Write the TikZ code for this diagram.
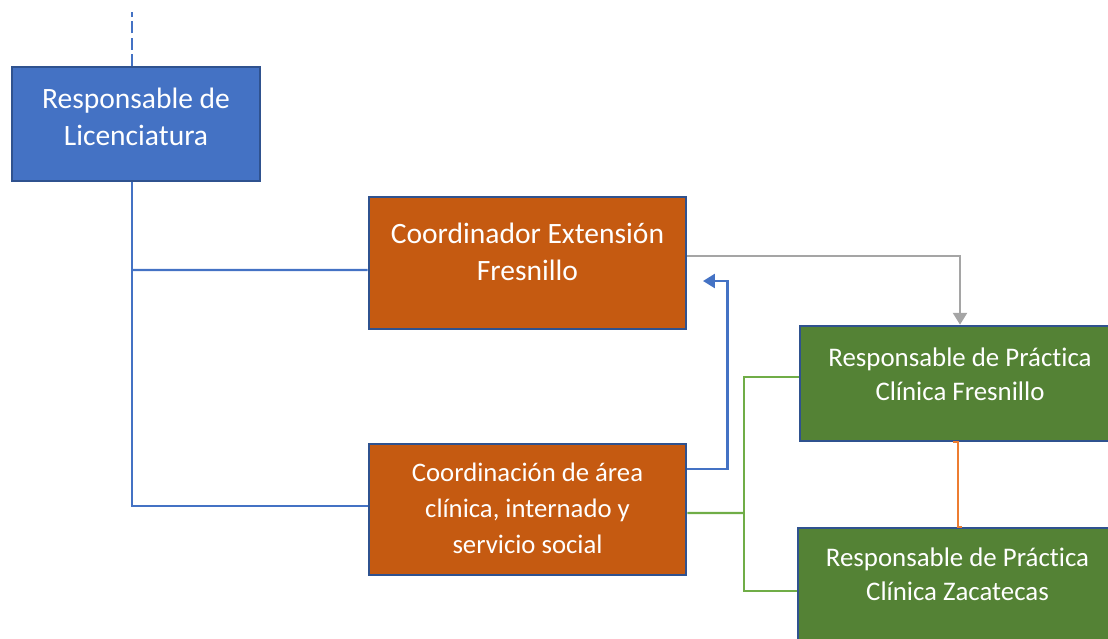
\documentclass[tikz,border=0pt]{standalone}
\usepackage{fontspec}
\setmainfont{Carlito}[Ligatures=NoCommon]
\usetikzlibrary{arrows.meta}
\definecolor{azul}{HTML}{4472C4}
\definecolor{borde}{HTML}{2F528F}
\definecolor{naranja}{HTML}{C55A11}
\definecolor{verde}{HTML}{548235}
\definecolor{verdeclaro}{HTML}{70AD47}
\definecolor{gris}{HTML}{A5A5A5}
\definecolor{naranjaclaro}{HTML}{ED7D31}
\tikzset{
  caja/.style={draw=borde, line width=1.8pt, inner sep=0pt},
  texto/.style={text=white, align=center, font=\fontsize{21}{26}\selectfont},
  textomedio/.style={text=white, align=center, font=\fontsize{19}{25.5}\selectfont},
  textochico/.style={text=white, align=center, font=\fontsize{19.1}{24.2}\selectfont},
  conector/.style={line width=1.7pt},
  punta/.style={-{Triangle[width=10pt,length=8.5pt]}}
}
\begin{document}
\begin{tikzpicture}[x=0.025cm, y=-0.025cm]
\useasboundingbox (0,0) rectangle (1108,638);
\clip (0,0) rectangle (1108,638);
% cajas
\node[caja, fill=azul, minimum width=6.2cm, minimum height=2.85cm] (lic) at (136,124) {};
\node[caja, fill=naranja, minimum width=7.925cm, minimum height=3.3cm] (ext) at (527.5,263) {};
\node[caja, fill=naranja, minimum width=7.925cm, minimum height=3.275cm] (area) at (527.5,509.5) {};
\node[caja, fill=verde, minimum width=8cm, minimum height=2.875cm] (fres) at (960,383.5) {};
\node[caja, fill=verde, minimum width=7.975cm, minimum height=2.8cm] (zac) at (957.5,584) {};
% textos
\node[texto] (licT) at (136,117) {Responsable de\\Licenciatura};
\node[texto] (extT) at (527.5,252) {Coordinador Extensión\\Fresnillo};
\node[textomedio] (areaT) at (527.5,508) {Coordinación de área\\clínica, internado y\\servicio social};
\node[textochico] (fresT) at (960,374) {Responsable de Práctica\\Clínica Fresnillo};
\node[textochico] (zacT) at (957.5,574.5) {Responsable de Práctica\\Clínica Zacatecas};
% puntos libres
\coordinate (arriba) at (132,12);
\coordinate (flecha) at (703,281);
\coordinate (nudo) at (744,513);
% conectores
\draw [conector, azul, dash pattern=on 8.5pt off 3pt] (arriba |- lic.north) -- (arriba);
\draw [conector, azul] (arriba |- lic.south) |- ([yshift=2.5pt]area.west);
\draw [conector, azul] (arriba |- ext.west) ++(0,7) -- ([yshift=-5pt]ext.west);
\draw [conector, gris, punta] ([yshift=5pt]ext.east) -| (fres.north);
\draw [conector, azul, punta] ([yshift=28.7pt]area.east) -- ++(40,0) |- (flecha);
\draw [conector, verdeclaro] ([yshift=-2.5pt]area.east) -- (nudo);
\draw [conector, verdeclaro] ([yshift=4.6pt]fres.west) -| (nudo) |- ([yshift=-5pt]zac.west);
\draw [conector, naranjaclaro] ([xshift=-5pt]fres.south) -- ([xshift=-1.5pt]fres.south)
  -- ([xshift=-1.5pt]fres.south |- zac.north) -- ([xshift=1.5pt]fres.south |- zac.north);
\end{tikzpicture}
\end{document}
